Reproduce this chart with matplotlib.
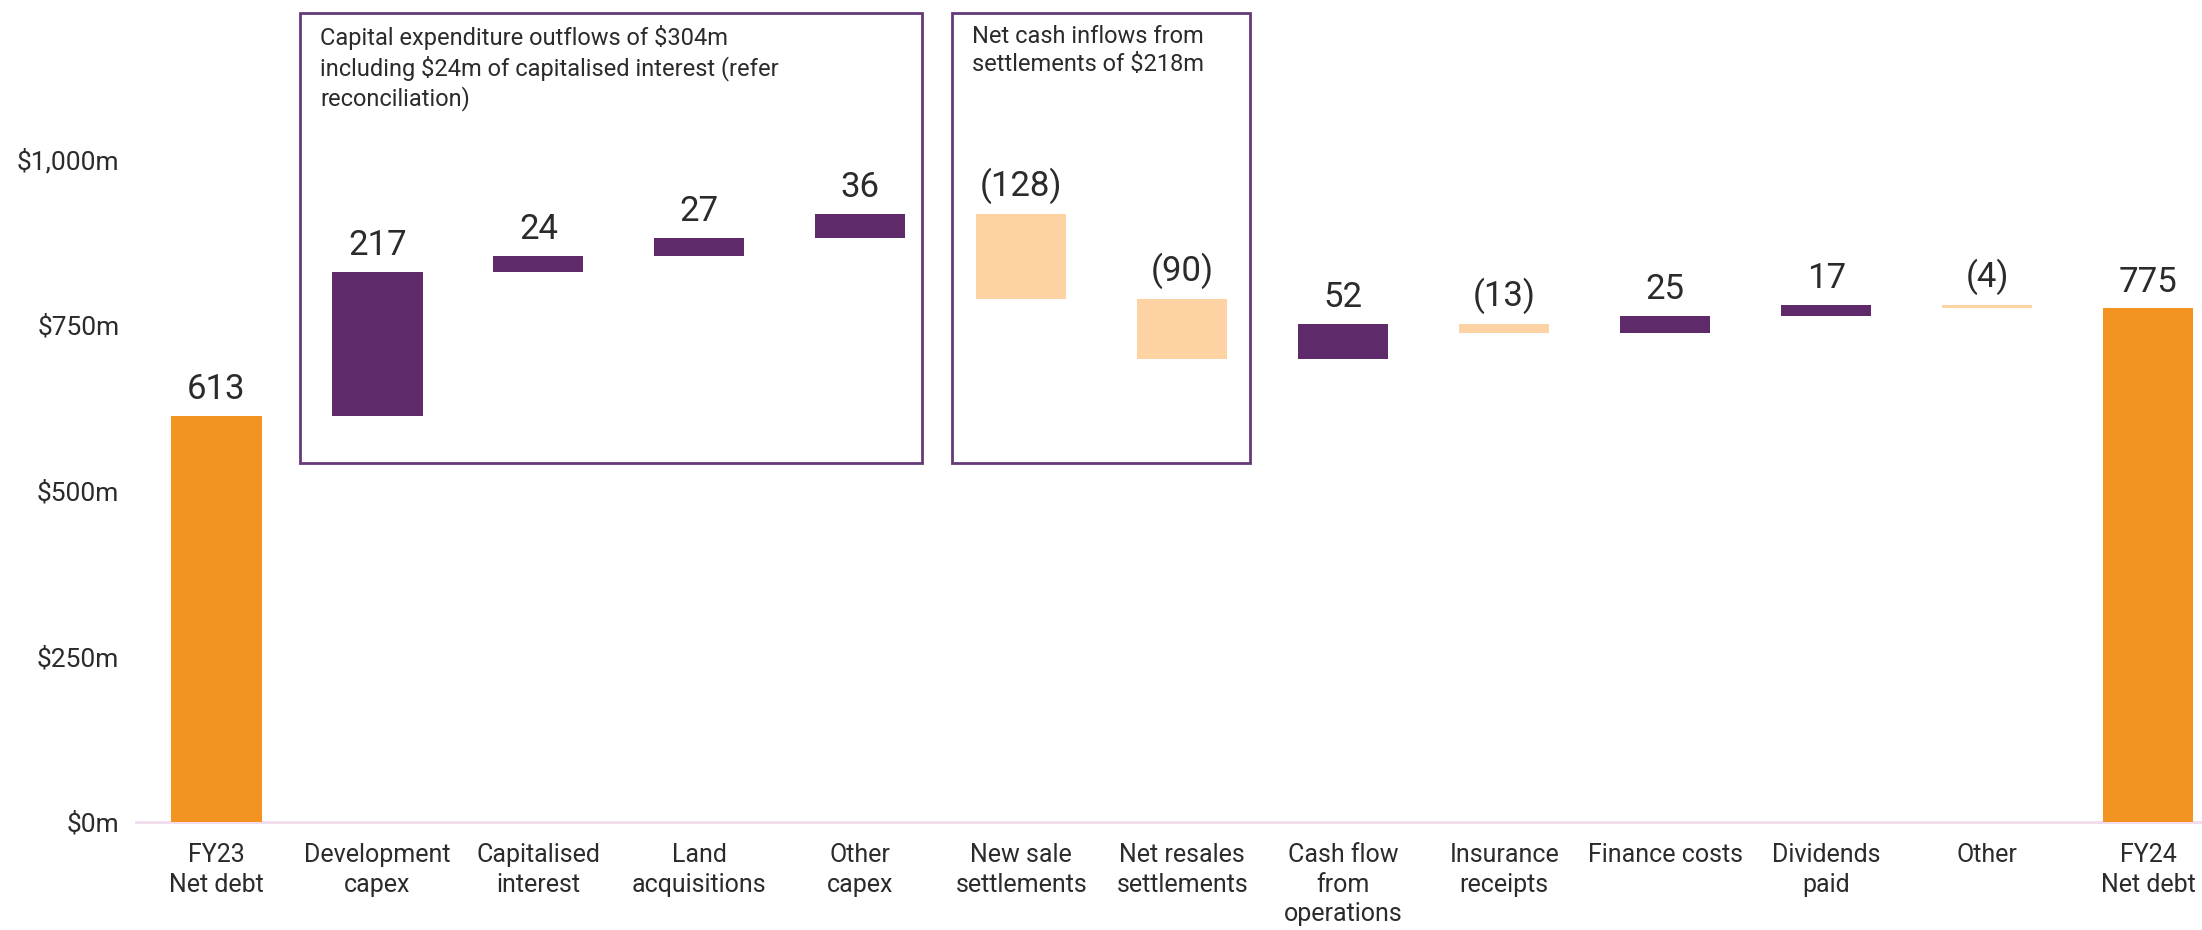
import matplotlib
matplotlib.use("Agg")
import matplotlib.pyplot as plt
from matplotlib.patches import Rectangle

plt.rcParams['font.family'] = ['Roboto', 'DejaVu Sans']

categories = ["FY23\nNet debt", "Development\ncapex", "Capitalised\ninterest", "Land\nacquisitions",
              "Other\ncapex", "New sale\nsettlements", "Net resales\nsettlements", "Cash flow\nfrom\noperations",
              "Insurance\nreceipts", "Finance costs", "Dividends\npaid", "Other", "FY24\nNet debt"]
values = [613, 217, 24, 27, 36, -128, -90, 52, -13, 25, 17, -4, 775]
labels = ["613", "217", "24", "27", "36", "(128)", "(90)", "52", "(13)", "25", "17", "(4)", "775"]
kinds = ["total"] + ["step"] * 11 + ["total"]

box_texts = ["Capital expenditure outflows of $304m\nincluding $24m of capitalised interest (refer\nreconciliation)",
             "Net cash inflows from\nsettlements of $218m"]

ORANGE = "#F39322"
PURPLE = "#5E2A6A"
PEACH = "#FDD3A4"
BOXEDGE = "#663A78"
TEXT = "#2b2b2b"

W, H = 2202, 930
fig = plt.figure(figsize=(W/100, H/100), dpi=100)
ax = fig.add_axes([136/W, 108/H, (W-136)/W, 822/H])

cum = 0
for i, (v, k, lab) in enumerate(zip(values, kinds, labels)):
    if k == "total":
        bottom, height, color = 0, v, ORANGE
        cum = v
    else:
        if v >= 0:
            bottom, height, color = cum, v, PURPLE
        else:
            bottom, height, color = cum + v, -v, PEACH
        cum += v
    ax.bar(i, height, bottom=bottom, width=0.56, color=color, zorder=3)
    top = bottom + height
    ax.annotate(lab, (i, top), xytext=(0, 7), textcoords="offset points",
                ha="center", va="bottom", fontsize=25, color=TEXT)

ax.set_xlim(-0.5, 12.335)
ax.set_ylim(0, 1240)
ax.set_yticks([0, 250, 500, 750, 1000])
ax.set_yticklabels(["$0m", "$250m", "$500m", "$750m", "$1,000m"])
ax.set_xticks(range(len(categories)))
ax.set_xticklabels(categories, linespacing=1.3)
ax.tick_params(axis="both", length=0, labelcolor=TEXT)
ax.tick_params(axis="x", pad=15, labelsize=18)
ax.tick_params(axis="y", pad=12, labelsize=19)
for s in ["top", "right", "left"]:
    ax.spines[s].set_visible(False)
ax.spines["bottom"].set_color("#F0DCEC")
ax.spines["bottom"].set_linewidth(2)

# annotation boxes
boxes = [(0.52, 4.38), (4.57, 6.42)]
for (x0, x1), txt in zip(boxes, box_texts):
    r = Rectangle((x0, 541), x1 - x0, 1221 - 541, fill=False, edgecolor=BOXEDGE,
                  linewidth=2, clip_on=False, zorder=2)
    ax.add_patch(r)
    ax.text(x0 + 0.125, 1203, txt, ha="left", va="top", fontsize=17, color=TEXT,
            linespacing=1.28)

fig.savefig("out.png", dpi=100)
